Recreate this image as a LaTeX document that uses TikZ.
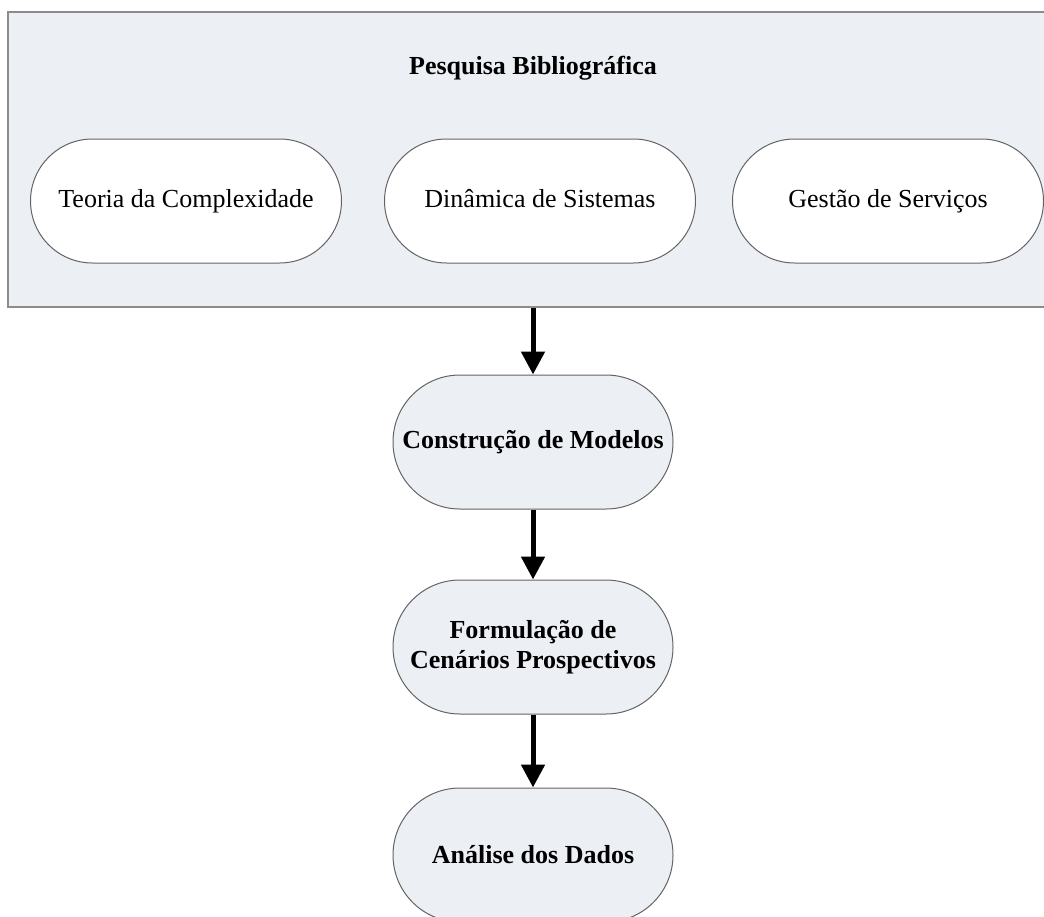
\documentclass[tikz,border=0pt]{standalone}
\usepackage{fontspec}
\setmainfont{Liberation Serif}
\usepackage{tikz}
\usetikzlibrary{shapes.misc,arrows.meta}
\definecolor{boxfill}{RGB}{236,239,244}
\definecolor{boxline}{RGB}{140,140,140}
\definecolor{pillline}{RGB}{100,100,100}
\newcommand{\pillw}{155.5pt}
\newcommand{\pillh}{62pt}

\begin{document}
\begin{tikzpicture}[x=0.5pt,y=-0.5pt,
    font=\fontsize{13}{15}\selectfont,
    outerbox/.style={draw=boxline, line width=1pt, fill=boxfill, rectangle,
        minimum width=526pt, minimum height=147.5pt, inner sep=0pt},
    pill/.style={draw=pillline, line width=0.5pt, rounded rectangle, inner sep=0pt,
        fill=white, minimum width=\pillw, minimum height=\pillh,
        text height=9pt, text depth=3pt},
    stepbox/.style={draw=pillline, line width=0.5pt, rounded rectangle, inner sep=0pt,
        fill=boxfill, minimum width=140pt, minimum height=67pt,
        font=\fontsize{13}{15}\selectfont\bfseries, align=center},
    flow/.style={line width=2.5pt, -{Triangle[length=11.5pt,width=11.5pt]}}]
    %\draw[help lines] (0,0) grid (1044,916);
    \useasboundingbox (0,0) rectangle (1044,916);
    \node[outerbox] (pb) at (534,159.5) {};
    \node[font=\fontsize{13}{15}\selectfont\bfseries] (title) at (533,68) {Pesquisa Bibliográfica};
    \node[pill] (tc) at (186,201) {Teoria da Complexidade};
    \node[pill] (ds) at (540,201) {Dinâmica de Sistemas};
    \node[pill] (gs) at (888,201) {Gestão de Serviços};
    \node[stepbox] (cm) at (533,442) {Construção de Modelos};
    \node[stepbox] (fc) at (533,647) {Formulação de\\Cenários Prospectivos};
    \node[stepbox] (ad) at (533,855) {Análise dos Dados};
    \draw[flow] (cm.north |- pb.south) -- (cm.north);
    \draw[flow] (cm.south) -- (fc.north);
    \draw[flow] (fc.south) -- (ad.north);
\end{tikzpicture}
\end{document}
